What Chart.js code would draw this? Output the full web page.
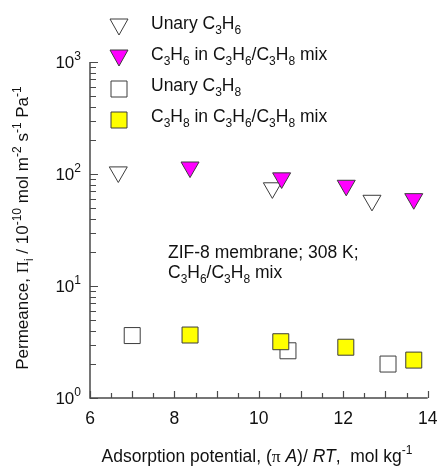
<!DOCTYPE html>
<html>
<head>
<meta charset="utf-8">
<script src="https://cdn.jsdelivr.net/npm/chart.js@4/dist/chart.umd.min.js"></script>
<style>
  html, body { margin: 0; padding: 0; background: #fff; }
  canvas { display: block; }
</style>
</head>
<body>
<canvas id="permeance" width="440" height="467"></canvas>
<script>
// adsorption potential (mol/kg) and permeance (1e-10 mol m-2 s-1 Pa-1)
const unaryC3H6X = [6.67, 10.32, 12.68];
const unaryC3H6Y = [104, 75, 58];
const mixC3H6X = [8.37, 10.54, 12.07, 13.67];
const mixC3H6Y = [115, 92, 79, 60];
const unaryC3H8X = [7.0, 10.69, 13.06];
const unaryC3H8Y = [3.61, 2.64, 2.01];
const mixC3H8X = [8.37, 10.52, 12.06, 13.67];
const mixC3H8Y = [3.65, 3.18, 2.84, 2.18];

const xTickLabels = [6, 8, 10, 12, 14];
const yDecades = [0, 1, 2, 3];

const AXIS = '#4a4a4a';
const EDGE = '#3c3c3c';
const SANS = 'Liberation Sans, Arial, sans-serif';
const SERIF = 'Liberation Serif, Times New Roman, serif';
const FS = 17.5;

function pts(xs, ys) {
  return xs.map((x, i) => ({ x: x, y: ys[i] }));
}

const series = [
  { label: 'Unary C3H6', data: pts(unaryC3H6X, unaryC3H6Y), style: 'triangle', fill: '#ffffff', order: 2 },
  { label: 'C3H6 in C3H6/C3H8 mix', data: pts(mixC3H6X, mixC3H6Y), style: 'triangle', fill: '#ff00ff', order: 1 },
  { label: 'Unary C3H8', data: pts(unaryC3H8X, unaryC3H8Y), style: 'rect', fill: '#ffffff', order: 2 },
  { label: 'C3H8 in C3H6/C3H8 mix', data: pts(mixC3H8X, mixC3H8Y), style: 'rect', fill: '#ffff00', order: 1 }
];

// draw a run of text pieces: [text, {sub, sup, italic, serif}]
function runText(ctx, x, y, parts, size) {
  let cx = x;
  parts.forEach(p => {
    const s = typeof p === 'string' ? { t: p } : p;
    let fs = size, dy = 0;
    if (s.sub) { fs = Math.round(size * 0.68); dy = size * 0.3; }
    if (s.sup) { fs = Math.round(size * 0.68); dy = -size * 0.42; }
    ctx.font = (s.italic ? 'italic ' : '') + fs + 'px ' + (s.serif ? SERIF : SANS);
    ctx.fillText(s.t, cx, y + dy);
    cx += ctx.measureText(s.t).width;
  });
  return cx - x;
}

function textWidth(ctx, parts, size) {
  ctx.save();
  ctx.globalAlpha = 0;
  const w = runText(ctx, 0, 0, parts, size);
  ctx.restore();
  return w;
}

function marker(ctx, style, fill, x, y) {
  ctx.save();
  ctx.fillStyle = fill;
  ctx.strokeStyle = EDGE;
  ctx.lineWidth = 1;
  ctx.beginPath();
  if (style === 'triangle') {
    ctx.moveTo(x - 9, y - 8);
    ctx.lineTo(x + 9, y - 8);
    ctx.lineTo(x, y + 8);
    ctx.closePath();
  } else {
    ctx.rect(x - 8, y - 8, 16, 16);
  }
  ctx.fill();
  ctx.stroke();
  ctx.restore();
}

const C = 'C', H = 'H';
const legendText = [
  ['Unary ', C, { t: '3', sub: 1 }, H, { t: '6', sub: 1 }],
  [C, { t: '3', sub: 1 }, H, { t: '6', sub: 1 }, ' in ', C, { t: '3', sub: 1 }, H, { t: '6', sub: 1 }, '/', C, { t: '3', sub: 1 }, H, { t: '8', sub: 1 }, ' mix'],
  ['Unary ', C, { t: '3', sub: 1 }, H, { t: '8', sub: 1 }],
  [C, { t: '3', sub: 1 }, H, { t: '8', sub: 1 }, ' in ', C, { t: '3', sub: 1 }, H, { t: '6', sub: 1 }, '/', C, { t: '3', sub: 1 }, H, { t: '8', sub: 1 }, ' mix']
];

const axesAndText = {
  id: 'axesAndText',
  afterDatasetsDraw(chart) {
    const ctx = chart.ctx;
    const xs = chart.scales.x, ys = chart.scales.y;
    const L = xs.left, R = xs.right, T = ys.top, B = ys.bottom;
    ctx.save();
    ctx.strokeStyle = AXIS;
    ctx.lineWidth = 1.5;
    ctx.beginPath();
    ctx.moveTo(L, T);
    ctx.lineTo(L, B);
    ctx.lineTo(R, B);
    ctx.stroke();

    // x ticks every 0.5, inward
    ctx.lineWidth = 1.2;
    ctx.beginPath();
    for (let v = 6; v <= 14.001; v += 0.5) {
      const px = Math.round(xs.getPixelForValue(v)) + 0.5;
      const len = Number.isInteger(v) ? 7 : 5;
      ctx.moveTo(px, B);
      ctx.lineTo(px, B - len);
    }
    // y ticks: decades and 2..9
    yDecades.forEach(d => {
      for (let m = 1; m <= 9; m++) {
        if (d === 3 && m > 1) break;
        const py = Math.round(ys.getPixelForValue(m * Math.pow(10, d))) + 0.5;
        const len = m === 1 ? 8 : 6;
        ctx.moveTo(L, py);
        ctx.lineTo(L + len, py);
      }
    });
    ctx.stroke();

    ctx.fillStyle = '#111';
    ctx.textBaseline = 'alphabetic';
    // x tick labels
    ctx.font = FS + 'px ' + SANS;
    ctx.textAlign = 'center';
    xTickLabels.forEach(v => {
      ctx.fillText(String(v), xs.getPixelForValue(v), B + 25.5);
    });
    ctx.textAlign = 'left';
    // y tick labels as 10^n
    yDecades.forEach(d => {
      const parts = ['10', { t: String(d), sup: 1 }];
      const w = textWidth(ctx, parts, 17);
      runText(ctx, L - 9 - w, ys.getPixelForValue(Math.pow(10, d)) + 5.5, parts, 17);
    });

    // legend
    series.forEach((s, i) => {
      const cy = 27 + i * 31;
      marker(ctx, s.style, s.fill, 119, cy);
      runText(ctx, 151, cy + 2, legendText[i], FS);
    });

    // note
    runText(ctx, 168, 257.5, ['ZIF-8 membrane; 308 K;'], FS);
    runText(ctx, 168, 278, [C, { t: '3', sub: 1 }, H, { t: '6', sub: 1 }, '/', C, { t: '3', sub: 1 }, H, { t: '8', sub: 1 }, ' mix'], FS);

    // x axis title
    const xTitle = ['Adsorption potential, (', { t: '\u03c0', serif: 1 }, ' ', { t: 'A', italic: 1 }, ')/ ', { t: 'RT', italic: 1 }, ',  mol kg', { t: '-1', sup: 1 }];
    const xw = textWidth(ctx, xTitle, FS);
    runText(ctx, 257 - xw / 2, 461.5, xTitle, FS);

    // y axis title, rotated
    const yTitle = ['Permeance, ', { t: '\u03a0', serif: 1 }, { t: 'i', sub: 1 }, ' / 10', { t: '-10', sup: 1 }, ' mol m', { t: '-2', sup: 1 }, ' s', { t: '-1', sup: 1 }, ' Pa', { t: '-1', sup: 1 }];
    const yw = textWidth(ctx, yTitle, 17);
    ctx.translate(28, 228);
    ctx.rotate(-Math.PI / 2);
    runText(ctx, -yw / 2, 0, yTitle, 17);
    ctx.restore();
  }
};

new Chart(document.getElementById('permeance'), {
  type: 'scatter',
  data: {
    datasets: series.map(s => ({
      label: s.label,
      data: s.data,
      order: s.order,
      pointStyle: s.style,
      rotation: s.style === 'triangle' ? 180 : 0,
      pointRadius: s.style === 'triangle' ? 10.4 : 11.3,
      pointHoverRadius: s.style === 'triangle' ? 10.4 : 11.3,
      backgroundColor: s.fill,
      borderColor: EDGE,
      borderWidth: 1
    }))
  },
  options: {
    responsive: false,
    animation: false,
    layout: { padding: { left: 90, right: 12, top: 62, bottom: 69 } },
    plugins: { legend: { display: false }, tooltip: { enabled: false } },
    scales: {
      x: { type: 'linear', min: 6, max: 14, display: false },
      y: { type: 'logarithmic', min: 1, max: 1000, display: false }
    }
  },
  plugins: [axesAndText]
});
</script>
</body>
</html>
